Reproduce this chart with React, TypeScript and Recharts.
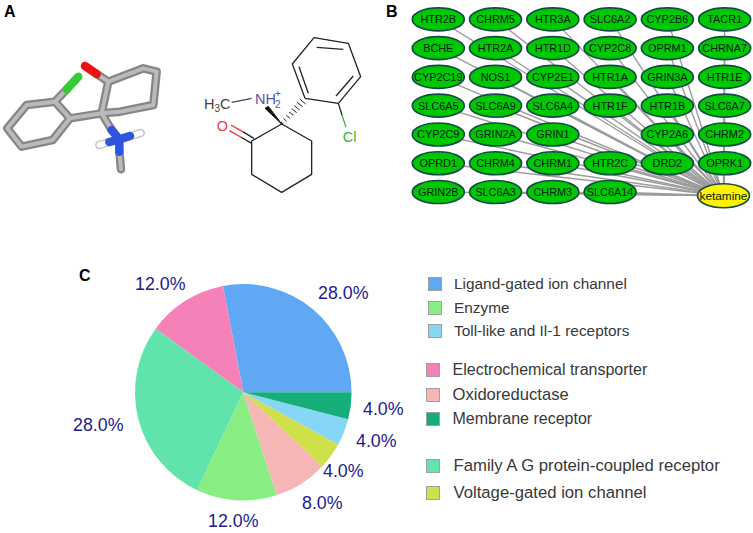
import { Legend, Pie, PieChart, Scatter, ScatterChart, XAxis, YAxis } from "recharts"

const FONT = "Liberation Sans, Arial, sans-serif"

// panel C
const classNames = [
  "Ligand-gated ion channel",
  "Electrochemical transporter",
  "Family A G protein-coupled receptor",
  "Enzyme",
  "Oxidoreductase",
  "Voltage-gated ion channel",
  "Toll-like and Il-1 receptors",
  "Membrane receptor",
]
const classShares = [28, 12, 28, 12, 8, 4, 4, 4]
const classColors = ["#60a8f4", "#f680b8", "#60e4ac", "#88ee84", "#f7b6b6", "#d0e04a", "#86d6f5", "#16ae78"]
const legendOrder = [0, 3, 6, 1, 4, 7, 2, 5]
const legendRowY = [283.5, 307.5, 331, 369.5, 394.5, 418.5, 466, 492.5]
const legendSwatchX = [428, 428, 428, 425.5, 425.5, 425.5, 425.5, 425.5]
const legendTextX = [454, 454, 454, 452.5, 452.5, 452.5, 453.5, 453.5]
const legendFontSize = [15.4, 15.4, 15.4, 16, 16.6, 16, 16.7, 16.7]
const labelOffsets = [
  [100, -100],
  [-83, -109],
  [-145, 32],
  [-10, 128],
  [79, 110],
  [100, 78],
  [133, 48],
  [140, 16],
]

// panel B, rows of the node grid
const nodeRows = [
  ["HTR2B", "CHRM5", "HTR3A", "SLC6A2", "CYP2B6", "TACR1"],
  ["BCHE", "HTR2A", "HTR1D", "CYP2C8", "OPRM1", "CHRNA7"],
  ["CYP2C19", "NOS1", "CYP2E1", "HTR1A", "GRIN3A", "HTR1E"],
  ["SLC6A5", "SLC6A9", "SLC6A4", "HTR1F", "HTR1B", "SLC6A7"],
  ["CYP2C9", "GRIN2A", "GRIN1", "", "CYP2A6", "CHRM2"],
  ["OPRD1", "CHRM4", "CHRM1", "HTR2C", "DRD2", "OPRK1"],
  ["GRIN2B", "SLC6A3", "CHRM3", "SLC6A14"],
]
const hub = { col: 4.98, row: 6.13, name: "ketamine" }
const targets = nodeRows.flatMap((names, row) =>
  names.map((name, col) => ({ col, row, name })).filter((n) => n.name !== ""),
)

// panel A, 3D stick model
const stickPaths = [
  [[80, 315], [165, 305], [210, 355], [158, 420], [65, 440], [22, 385], [80, 315]],
  [[165, 305], [200, 268]],
  [[210, 355], [305, 340]],
  [[305, 340], [325, 245], [430, 205], [470, 215], [460, 315], [360, 335], [305, 340]],
  [[325, 245], [290, 222]],
  [[305, 340], [335, 390]],
  [[358, 455], [363, 508]],
]
const coloredSticks = [
  { color: "#35cc35", path: [[200, 268], [235, 230]] },
  { color: "#ee1111", path: [[290, 222], [255, 198]] },
  { color: "#2f55dd", path: [[335, 390], [358, 418], [358, 455]] },
  { color: "#2f55dd", path: [[358, 418], [390, 408]] },
  { color: "#2f55dd", path: [[358, 418], [328, 426]] },
]
const hydrogenSticks = [
  [[390, 408], [422, 399]],
  [[328, 426], [298, 435]],
]

// panel A, skeletal formula
const skeletalPaths = [
  { color: "#222222", path: [[845, 372], [935, 423], [935, 523], [845, 577], [755, 523], [755, 423], [845, 372]] },
  { color: "#222222", path: [[915, 295], [877, 192], [942, 113], [1045, 130], [1082, 230], [1015, 310], [915, 295]] },
  { color: "#222222", path: [[925, 280], [897, 200]] },
  { color: "#222222", path: [[950, 142], [1030, 148]] },
  { color: "#222222", path: [[1060, 228], [1008, 288]] },
  { color: "#222222", path: [[1015, 310], [1026, 345]] },
  { color: "#35b835", path: [[1026, 345], [1038, 382]] },
  { color: "#222222", path: [[755, 430], [722, 411]] },
  { color: "#222222", path: [[762, 415], [728, 395]] },
  { color: "#f03030", path: [[722, 411], [688, 392]] },
  { color: "#f03030", path: [[728, 395], [693, 375]] },
  { color: "#444466", path: [[695, 307], [755, 295]] },
]
const wedge = [[845, 372], [795, 325], [805, 319], [845, 372]]
const hashes = [
  [[843, 366], [850, 372]],
  [[851, 356], [860, 364]],
  [[859, 346], [870, 355]],
  [[867, 336], [880, 346]],
  [[875, 326], [890, 338]],
  [[883, 317], [899, 330]],
  [[891, 307], [908, 320]],
  [[899, 297], [917, 312]],
]
const atomLabels = [
  { x: 667, y: 375, color: "#f04040", text: "O" },
  { x: 1049, y: 408, color: "#35b835", text: "Cl" },
]

const toPoints = (path: number[][]) => path.map(([x, y]) => ({ x, y }))

function NodeShape(props: any) {
  const { cx, cy, payload } = props
  const isHub = payload.name === hub.name
  return (
    <g>
      <ellipse
        cx={cx}
        cy={cy}
        rx={26}
        ry={isHub ? 12 : 11.5}
        fill={isHub ? "#fff200" : "#00c800"}
        stroke="#124c46"
        strokeWidth={1.7}
      />
      <text
        x={cx}
        y={cy + 3.9}
        textAnchor="middle"
        fontFamily={FONT}
        fontSize={isHub ? 11.8 : 10.9}
        fill="#04200f"
      >
        {payload.name}
      </text>
    </g>
  )
}

function AtomLabel(props: any) {
  const { cx, cy, payload } = props
  return (
    <text x={cx} y={cy + 5.5} textAnchor="middle" fontFamily={FONT} fontSize={14.5} fill={payload.color}>
      {payload.text}
    </text>
  )
}

function MethylLabel(props: any) {
  const { cx, cy } = props
  return (
    <text x={cx} y={cy + 5.5} fontFamily={FONT} fontSize={14.5} fill="#444444">
      H<tspan fontSize={10} dy={3}>3</tspan>
      <tspan dy={-3}>C</tspan>
    </text>
  )
}

function AmineLabel(props: any) {
  const { cx, cy } = props
  return (
    <g fontFamily={FONT} fill="#5555aa">
      <text x={cx} y={cy + 5.5} fontSize={14.5}>
        NH
      </text>
      <text x={cx + 20} y={cy + 10} fontSize={10}>
        2
      </text>
      <text x={cx + 20} y={cy - 1} fontSize={10}>
        +
      </text>
    </g>
  )
}

function PercentLabel(props: any) {
  const { cx, cy, index, value } = props
  const [dx, dy] = labelOffsets[index]
  return (
    <text x={cx + dx} y={cy + dy + 6.5} textAnchor="middle" fontFamily={FONT} fontSize={17.8} fill="#1b1b8f">
      {`${value.toFixed(1)}%`}
    </text>
  )
}

function ClassLegend() {
  return (
    <div style={{ position: "relative", width: 753, height: 533 }}>
      {legendOrder.map((idx, i) => (
        <div key={classNames[idx]}>
          <div
            style={{
              position: "absolute",
              boxSizing: "border-box",
              left: legendSwatchX[i],
              top: legendRowY[i] - 7,
              width: 14,
              height: 14,
              background: classColors[idx],
              border: "1px solid #a0a0a0",
            }}
          />
          <div
            style={{
              position: "absolute",
              left: legendTextX[i],
              top: legendRowY[i] - 10,
              lineHeight: "20px",
              fontFamily: FONT,
              fontSize: legendFontSize[i],
              color: "#383838",
              whiteSpace: "nowrap",
            }}
          >
            {classNames[idx]}
          </div>
        </div>
      ))}
    </div>
  )
}

function PanelLetter({ x, y, text }: { x: number; y: number; text: string }) {
  return (
    <div
      style={{
        position: "absolute",
        left: x,
        top: y,
        fontFamily: FONT,
        fontWeight: 700,
        fontSize: 16,
        lineHeight: "16px",
        color: "#000",
      }}
    >
      {text}
    </div>
  )
}

const hiddenAxes = (xDomain: number[], yDomain: number[]) => [
  <XAxis key="x" hide type="number" dataKey="x" domain={xDomain} allowDataOverflow />,
  <YAxis key="y" hide type="number" dataKey="y" domain={yDomain} reversed allowDataOverflow />,
]

function MoleculePanel() {
  const stickStyle = { strokeLinecap: "round", strokeLinejoin: "round" }
  return (
    <ScatterChart width={370} height={210} margin={{ top: 0, right: 0, bottom: 0, left: 0 }}>
      {hiddenAxes([0, 1110], [0, 630])}
      {stickPaths.map((path, i) => (
        <Scatter
          key={`base${i}`}
          data={toPoints(path)}
          line={{ stroke: "#868686", strokeWidth: 8.5, ...stickStyle }}
          shape={() => <g />}
          isAnimationActive={false}
        />
      ))}
      {stickPaths.map((path, i) => (
        <Scatter
          key={`shine${i}`}
          data={toPoints(path)}
          line={{ stroke: "#bababa", strokeWidth: 4, ...stickStyle }}
          shape={() => <g />}
          isAnimationActive={false}
        />
      ))}
      {hydrogenSticks.map((path, i) => (
        <Scatter
          key={`hbase${i}`}
          data={toPoints(path)}
          line={{ stroke: "#c4c4c4", strokeWidth: 8.5, ...stickStyle }}
          shape={() => <g />}
          isAnimationActive={false}
        />
      ))}
      {hydrogenSticks.map((path, i) => (
        <Scatter
          key={`hshine${i}`}
          data={toPoints(path)}
          line={{ stroke: "#ffffff", strokeWidth: 5.5, ...stickStyle }}
          shape={() => <g />}
          isAnimationActive={false}
        />
      ))}
      {coloredSticks.map((s, i) => (
        <Scatter
          key={`color${i}`}
          data={toPoints(s.path)}
          line={{ stroke: s.color, strokeWidth: 8.5, ...stickStyle }}
          shape={() => <g />}
          isAnimationActive={false}
        />
      ))}
      {skeletalPaths.map((s, i) => (
        <Scatter
          key={`bond${i}`}
          data={toPoints(s.path)}
          line={{ stroke: s.color, strokeWidth: 1.3, strokeLinejoin: "round" }}
          shape={() => <g />}
          isAnimationActive={false}
        />
      ))}
      <Scatter
        data={toPoints(wedge)}
        line={{ stroke: "#111111", strokeWidth: 1, fill: "#111111" }}
        shape={() => <g />}
        isAnimationActive={false}
      />
      {hashes.map((path, i) => (
        <Scatter
          key={`hash${i}`}
          data={toPoints(path)}
          line={{ stroke: "#222222", strokeWidth: 1 }}
          shape={() => <g />}
          isAnimationActive={false}
        />
      ))}
      <Scatter data={atomLabels} shape={<AtomLabel />} isAnimationActive={false} />
      <Scatter data={[{ x: 612, y: 310 }]} shape={<MethylLabel />} isAnimationActive={false} />
      <Scatter data={[{ x: 765, y: 295 }]} shape={<AmineLabel />} isAnimationActive={false} />
    </ScatterChart>
  )
}

function NetworkPanel() {
  const hubPoint = { x: hub.col, y: hub.row, name: hub.name }
  return (
    <ScatterChart width={372.3} height={215.8} margin={{ top: 0, right: 0, bottom: 0, left: 0 }}>
      {hiddenAxes([-1, 5.5], [-0.5, 7])}
      {targets.map((t) => (
        <Scatter
          key={t.name}
          data={[{ x: t.col, y: t.row }, { x: hub.col, y: hub.row }]}
          line={{ stroke: "#9c9c9c", strokeWidth: 1.4 }}
          shape={() => <g />}
          isAnimationActive={false}
        />
      ))}
      <Scatter
        data={targets.map((t) => ({ x: t.col, y: t.row, name: t.name }))}
        shape={<NodeShape />}
        isAnimationActive={false}
      />
      <Scatter data={[hubPoint]} shape={<NodeShape />} isAnimationActive={false} />
    </ScatterChart>
  )
}

export default function App() {
  const pieData = classNames.map((name, i) => ({ name, value: classShares[i], fill: classColors[i] }))
  return (
    <div style={{ position: "absolute", left: 0, top: 0, width: 753, height: 533, background: "#fff", overflow: "hidden" }}>
      <div style={{ position: "absolute", left: 0, top: 0 }}>
        <PieChart width={753} height={533} margin={{ top: 0, right: 0, bottom: 0, left: 0 }}>
          <Pie
            data={pieData}
            dataKey="value"
            nameKey="name"
            cx={243.3}
            cy={392.3}
            outerRadius={108.3}
            startAngle={0}
            endAngle={360}
            stroke="none"
            label={<PercentLabel />}
            labelLine={false}
            isAnimationActive={false}
          />
          <Legend
            content={<ClassLegend />}
            wrapperStyle={{ position: "absolute", left: 0, top: 0, width: 753, height: 533, margin: 0 }}
          />
        </PieChart>
      </div>
      <div style={{ position: "absolute", left: 0, top: 0 }}>
        <MoleculePanel />
      </div>
      <div style={{ position: "absolute", left: 380.7, top: 4.9 }}>
        <NetworkPanel />
      </div>
      <PanelLetter x={4} y={4} text="A" />
      <PanelLetter x={386} y={4} text="B" />
      <PanelLetter x={79} y={268} text="C" />
    </div>
  )
}
